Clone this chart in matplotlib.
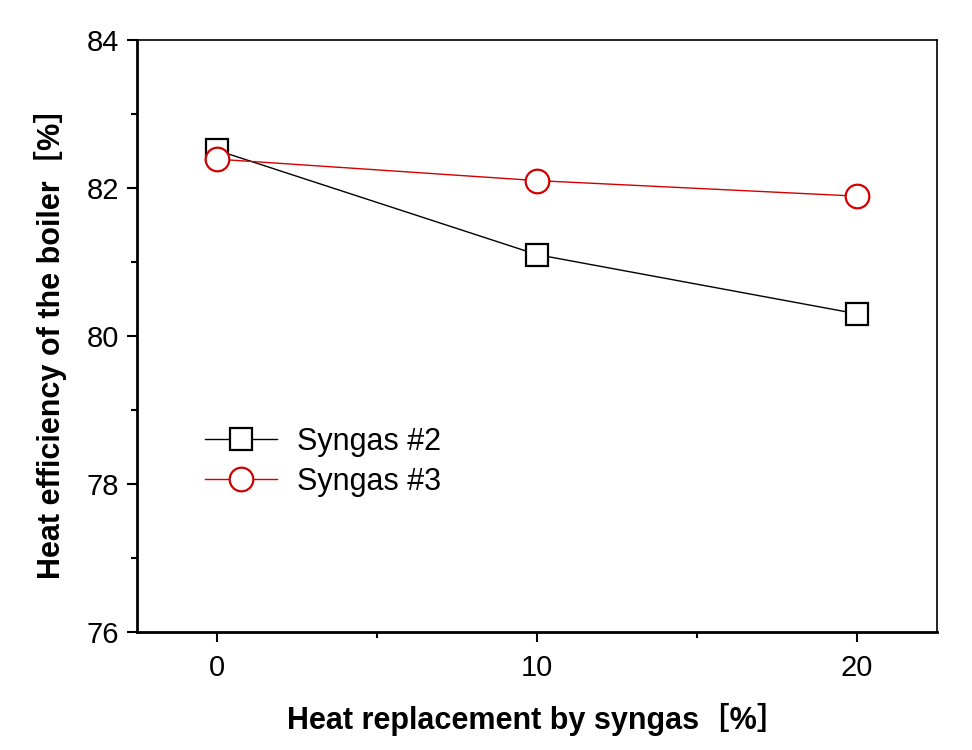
import matplotlib.pyplot as plt
from matplotlib.ticker import MultipleLocator

plt.rcParams['font.family'] = ['Liberation Sans', 'Noto Sans CJK JP', 'DejaVu Sans']

replacement = [0, 10, 20]
syngas2 = [82.51, 81.1, 80.3]
syngas3 = [82.39, 82.1, 81.89]

fig = plt.figure(figsize=(9.72, 7.5), dpi=100)
ax = fig.add_axes([137 / 972, 118 / 750, 800 / 972, 592 / 750])

ax.plot(replacement, syngas2, color='black', lw=1, marker='s', ms=15.5,
        mfc='white', mec='black', mew=1.6, label='Syngas #2', zorder=3)
ax.plot(replacement, syngas3, color='#d40000', lw=1, marker='o', ms=17,
        mfc='white', mec='#d40000', mew=1.6, label='Syngas #3', zorder=4)

ax.set_xlim(-2.5, 22.5)
ax.set_ylim(76, 84)
ax.xaxis.set_major_locator(MultipleLocator(10))
ax.xaxis.set_minor_locator(MultipleLocator(5))
ax.yaxis.set_major_locator(MultipleLocator(2))
ax.yaxis.set_minor_locator(MultipleLocator(1))
ax.tick_params(which='both', direction='out', labelsize=21, width=1.5)
ax.tick_params(which='major', length=7, pad=6)
ax.tick_params(which='minor', length=4)
ax.tick_params(axis='x', pad=9)

ax.spines['left'].set_linewidth(2)
ax.spines['bottom'].set_linewidth(2)
ax.spines['top'].set_linewidth(1.2)
ax.spines['right'].set_linewidth(1.2)

ax.set_xlabel('Heat replacement by syngas［%］', fontsize=22, fontweight='bold', labelpad=15)
ax.set_ylabel('Heat efficiency of the boiler［%］', fontsize=22, fontweight='bold', labelpad=14)

ax.legend(loc='upper left', bbox_to_anchor=(0.051, 0.393), frameon=False,
          fontsize=22, handlelength=2.35, handletextpad=0.65, labelspacing=0.33)

fig.savefig('out.png', dpi=100)
